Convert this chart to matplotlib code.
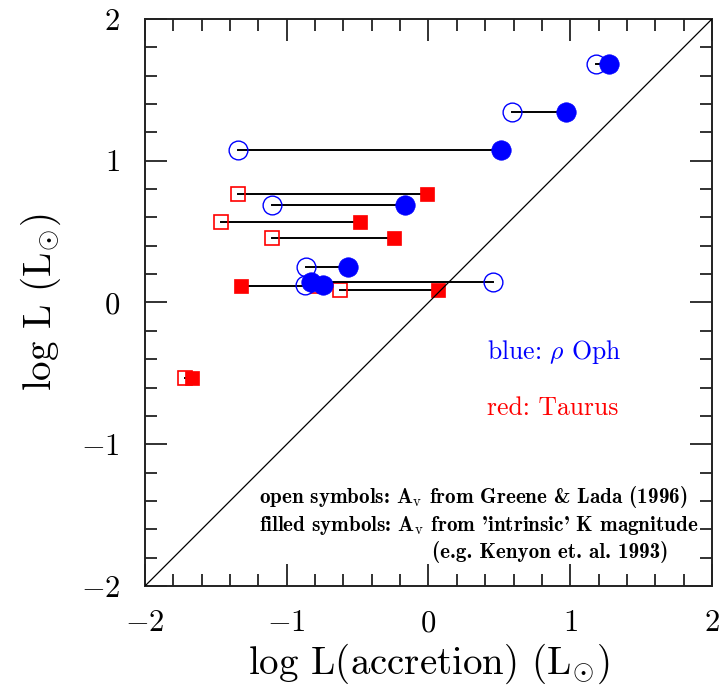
import matplotlib
matplotlib.use("Agg")
import matplotlib.pyplot as plt
from matplotlib.ticker import MultipleLocator

plt.rcParams.update({
    "font.family": "cmr10",
    "mathtext.fontset": "cm",
    "axes.formatter.use_mathtext": True,
})

# rho Oph sources: open = A_v from Greene & Lada, filled = A_v from intrinsic K
blue_open_x = [1.185, 0.587, -1.342, -1.102, -0.864, -0.871, 0.453]
blue_filled_x = [1.274, 0.968, 0.511, -0.166, -0.570, -0.742, -0.829]
blue_y = [1.683, 1.342, 1.076, 0.688, 0.253, 0.123, 0.147]

# Taurus sources
red_open_x = [-1.346, -1.466, -1.102, -0.780, -0.624, -1.720]
red_filled_x = [-0.013, -0.481, -0.243, -1.325, 0.065, -1.668]
red_y = [0.767, 0.570, 0.458, 0.119, 0.090, -0.535]

axis_lim = [-2, 2]
tick_labels = [-2, -1, 0, 1, 2]

fig = plt.figure(figsize=(7.24, 6.88), dpi=100)
ax = fig.add_axes([0.2003, 0.1483, 0.7831, 0.8241])

# Taurus pairs
for xo, xf, y in zip(red_open_x, red_filled_x, red_y):
    ax.plot([xo, xf], [y, y], color="black", lw=1.4, zorder=2)
ax.plot(red_open_x, red_y, ls="none", marker="s", ms=9.5, mfc="none",
        mec="red", mew=1.2, zorder=3)
ax.plot(red_filled_x, red_y, ls="none", marker="s", ms=10, mfc="red",
        mec="red", mew=0.5, zorder=3)

# rho Oph pairs
for xo, xf, y in zip(blue_open_x, blue_filled_x, blue_y):
    ax.plot([xo, xf], [y, y], color="black", lw=1.4, zorder=4)
ax.plot(blue_open_x, blue_y, ls="none", marker="o", ms=13.5, mfc="none",
        mec="blue", mew=1.0, zorder=5)
ax.plot(blue_filled_x, blue_y, ls="none", marker="o", ms=14, mfc="blue",
        mec="blue", mew=0.5, zorder=5)

# one-to-one line
ax.plot(axis_lim, axis_lim, color="black", lw=0.9, zorder=6)

ax.set_xlim(axis_lim)
ax.set_ylim(axis_lim)
ax.set_xticks(tick_labels)
ax.set_yticks(tick_labels)
ax.xaxis.set_minor_locator(MultipleLocator(0.2))
ax.yaxis.set_minor_locator(MultipleLocator(0.2))
ax.tick_params(which="both", direction="in", top=True, right=True,
               width=1.3, color="#222222")
ax.tick_params(which="major", length=16, labelsize=22)
ax.tick_params(axis="y", which="major", pad=18)
ax.tick_params(axis="x", which="major", pad=17)
ax.tick_params(which="minor", length=8.5)
for s in ax.spines.values():
    s.set_linewidth(1.4)
    s.set_color("#222222")

ax.set_xlabel(r"log L(accretion) (L$_{\odot}$)", fontsize=28, va="center")
ax.xaxis.set_label_coords(0.5, -0.138)
ax.set_ylabel(r"log L (L$_{\odot}$)", fontsize=28, va="center")
ax.yaxis.set_label_coords(-0.183, 0.5)

ax.text(0.413, -0.347, r"blue: $\rho$ Oph", color="blue", fontsize=18.5,
        ha="left", va="center")
ax.text(0.413, -0.744, "red: Taurus", color="red", fontsize=18.5,
        ha="left", va="center")

note_kw = dict(fontsize=15.2, ha="left", va="center", family="cmb10")
ax.text(-1.196, -1.372, r"open symbols: A$_{\rm v}$ from Greene & Lada (1996)",
        **note_kw)
ax.text(-1.196, -1.570, r"filled symbols: A$_{\rm v}$ from 'intrinsic' K magnitude",
        **note_kw)
ax.text(0.025, -1.762, "(e.g. Kenyon et. al. 1993)", **note_kw)

fig.savefig("out.png", dpi=100)
